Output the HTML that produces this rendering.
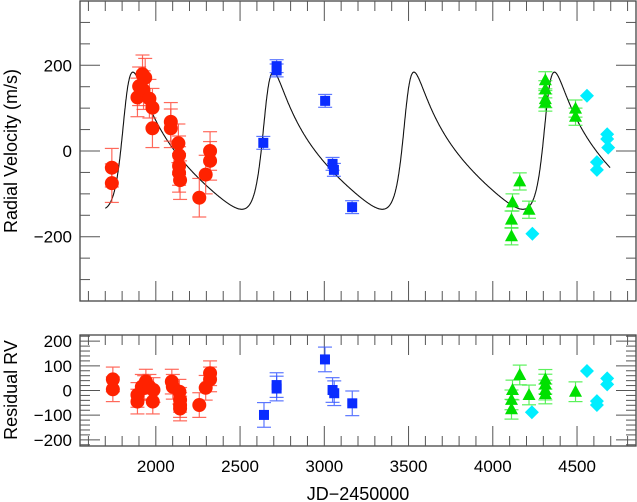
<!DOCTYPE html>
<html><head><meta charset="utf-8"><style>
html,body{margin:0;padding:0;background:#fff;}
svg{display:block;font-family:"Liberation Sans",sans-serif;}
</style></head><body>
<svg id="chart" width="637" height="502" viewBox="0 0 637 502"></svg>
<script>
// ---- data ----
const redX=[1739,1739,1921,1937,1901,1891,1927,1962,1980,1980,2089,2089,2134,2138,2138,2138,2144,2258,2296,2322,2322];
const redY=[-39,-75,179,171,151,125,142,122,101,53,68,53,18,-10,-35,-51,-68,-109,-55,-23,0];
const blueX=[2638,2717,2717,3005,3049,3057,3165];
const blueY=[19,198,188,117,-30,-44,-131];
const greenX=[4117,4111,4111,4160,4215,4312,4312,4312,4312,4491,4491];
const greenY=[-120,-160,-199,-71,-137,165,144,121,113,99,80];
const cyanX=[4235,4559,4618,4618,4679,4679,4685];
const cyanY=[-193,129,-26,-44,39,28,8];
const resRedX=[1745,1745,1891,1891,1917,1941,1931,1962,1986,1982,2095,2101,2140,2144,2144,2144,2258,2296,2322,2322];
const resRedY=[45,5,-18,-45,15,36,10,15,2,-45,36,15,-5,-38,-73,-59,-59,11,70,45];
const resBlueX=[2642,2717,2717,3004,3049,3059,3166];
const resBlueY=[-99,22,8,126,2,-11,-52];
const resGreenX=[4117,4111,4111,4160,4215,4312,4312,4312,4312,4491];
const resGreenY=[2,-38,-76,63,-18,45,26,2,-14,-5];
const resCyanX=[4232,4559,4618,4618,4679,4679];
const resCyanY=[-88,79,-43,-59,49,25];
const xTicks=[2000,2500,3000,3500,4000,4500];
const yTicksTop=[-200,0,200];
const yTicksRes=[-200,-100,0,100,200];
// Keplerian model parameters [period, K, e, omega(deg), gamma, tPeak]
const model=[834,160,0.5,300,-16,2698];
// ---- axes ----
const X0=1550,X1=4850,PX0=80,PX1=636;
const sx=v=>PX0+(v-X0)*(PX1-PX0)/(X1-X0);
const T0=1,T1=301,sy=v=>T0+(350-v)*(T1-T0)/700;
const R0=335,R1=446,sr=v=>R0+(225-v)*(R1-R0)/450;
const svg=document.getElementById('chart');
const NS='http://www.w3.org/2000/svg';
function mk(t,a,p){const e=document.createElementNS(NS,t);for(const k in a)e.setAttribute(k,a[k]);(p||svg).appendChild(e);return e;}

function frame(top,bot,yf,ymin,ymax,ymaj,ymin2,name){
  const g=mk('g',{});
  
  
  mk('rect',{x:PX0,y:top,width:PX1-PX0,height:bot-top,fill:'none',stroke:'#444','stroke-width':1.3},g);
  for(let v=1600;v<=4800;v+=100){
    const L=(v%500===0)?20:10,x=sx(v);
    mk('line',{x1:x,y1:top,x2:x,y2:top+L,stroke:'#555','stroke-width':1},g);
    mk('line',{x1:x,y1:bot,x2:x,y2:bot-L,stroke:'#555','stroke-width':1},g);
  }
  for(let v=ymin;v<=ymax;v+=ymin2){
    const L=(Math.abs(v%ymaj)<1e-6)?20:10,y=yf(v);
    if(y<=top+0.5||y>=bot-0.5)continue;
    mk('line',{x1:PX0,y1:y,x2:PX0+L,y2:y,stroke:'#555','stroke-width':1},g);
    mk('line',{x1:PX1,y1:y,x2:PX1-L,y2:y,stroke:'#555','stroke-width':1},g);
  }
}
frame(T0,T1,sy,-350,350,200,50,'top-panel');
frame(R0,R1,sr,-220,220,100,20,'residual-panel');

for(const v of yTicksTop){const t=mk('text',{x:72,y:sy(v)+6,'text-anchor':'end','font-size':17});t.textContent=v<0?'\u2212'+(-v):v;

}
for(const v of yTicksRes){const t=mk('text',{x:72,y:sr(v)+6,'text-anchor':'end','font-size':17});t.textContent=v<0?'\u2212'+(-v):v;

}
for(const v of xTicks){const t=mk('text',{x:sx(v),y:472,'text-anchor':'middle','font-size':17});t.textContent=v;

}
let t=mk('text',{x:358,y:500,'text-anchor':'middle','font-size':18});t.textContent='JD\u22122450000';


t=mk('text',{x:0,y:0,'text-anchor':'middle','font-size':18,transform:'translate(17,151) rotate(-90)'});t.textContent='Radial Velocity (m/s)';


t=mk('text',{x:0,y:0,'text-anchor':'middle','font-size':18,transform:'translate(17,390) rotate(-90)'});t.textContent='Residual RV';



// ---- model curve ----
(function(){
  const [P,K,e,wd,g,tp]=model;const w=wd*Math.PI/180;
  const nuPeak=((-w)%(2*Math.PI)+2*Math.PI)%(2*Math.PI);
  const Ep=2*Math.atan(Math.sqrt((1-e)/(1+e))*Math.tan(nuPeak/2));
  const Mp=Ep-e*Math.sin(Ep);
  const tPer=tp-Mp*P/(2*Math.PI);
  let d='';
  for(let tt=1700;tt<=4697;tt+=2){
    let M=2*Math.PI*(tt-tPer)/P;M=((M%(2*Math.PI))+2*Math.PI)%(2*Math.PI);
    let E=M;for(let i=0;i<30;i++)E=E-(E-e*Math.sin(E)-M)/(1-e*Math.cos(E));
    const nu=2*Math.atan2(Math.sqrt(1+e)*Math.sin(E/2),Math.sqrt(1-e)*Math.cos(E/2));
    const v=g+K*(Math.cos(nu+w)+e*Math.cos(w));
    d+=(d?'L':'M')+sx(tt).toFixed(1)+','+sy(v).toFixed(1);
  }
  const p=mk('path',{d:d,fill:'none',stroke:'#111','stroke-width':1.1});
  
  
})();

// ---- markers ----
function err(x,y,e,yf,col){
  const g=mk('g',{stroke:col,'stroke-width':1.2,opacity:0.8});
  
  
  const px=sx(x),a=yf(y+e),b=yf(y-e);
  mk('line',{x1:px,y1:a,x2:px,y2:b},g);
  mk('line',{x1:px-7,y1:a,x2:px+7,y2:a},g);
  mk('line',{x1:px-7,y1:b,x2:px+7,y2:b},g);
}
function marker(type,x,y,yf,col,name){
  const px=sx(x),py=yf(y);let m;
  if(type==='circle')m=mk('circle',{cx:px,cy:py,r:7,fill:col});
  else if(type==='square')m=mk('rect',{x:px-5,y:py-5,width:10,height:10,fill:col});
  else if(type==='tri')m=mk('polygon',{points:`${px},${py-7} ${px-6.5},${py+5} ${px+6.5},${py+5}`,fill:col});
  else m=mk('polygon',{points:`${px},${py-7} ${px+7},${py} ${px},${py+7} ${px-7},${py}`,fill:col});
  
  
}
function series(xs,ys,type,col,ecol,e,yf,name){
  if(e>0)for(let i=0;i<xs.length;i++)err(xs[i],ys[i],e,yf,ecol);
  for(let i=0;i<xs.length;i++)marker(type,xs[i],ys[i],yf,col,name);
}
series(redX,redY,'circle','#ff2200','#ff4433',45,sy,'red-point');
series(blueX,blueY,'square','#0a2cff','#3355ff',15,sy,'blue-point');
series(greenX,greenY,'tri','#00e000','#33ee33',20,sy,'green-point');
series(cyanX,cyanY,'diamond','#00eeff','#00eeff',0,sy,'cyan-point');
series(resRedX,resRedY,'circle','#ff2200','#ff4433',50,sr,'red-residual');
series(resBlueX,resBlueY,'square','#0a2cff','#3355ff',50,sr,'blue-residual');
series(resGreenX,resGreenY,'tri','#00e000','#33ee33',40,sr,'green-residual');
series(resCyanX,resCyanY,'diamond','#00eeff','#00eeff',0,sr,'cyan-residual');
</script>
</body></html>
